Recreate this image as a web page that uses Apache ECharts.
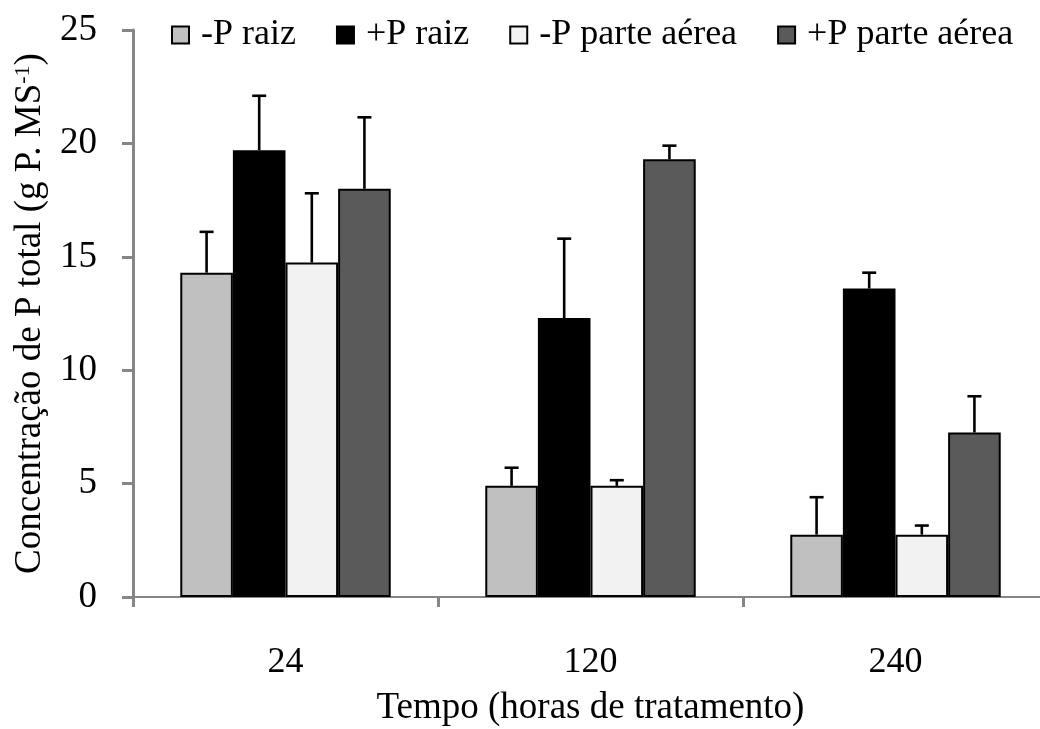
<!DOCTYPE html>
<html>
<head>
<meta charset="utf-8">
<script src="https://cdn.jsdelivr.net/npm/echarts@6/dist/echarts.min.js"></script>
<style>
  html, body { margin: 0; padding: 0; background: #ffffff; }
  #chart { width: 1040px; height: 729px; }
</style>
</head>
<body>
<div id="chart"></div>
<script>
// Hours of treatment
const categories = ['24', '120', '240'];
const seriesNames = ['-P raiz', '+P raiz', '-P parte aérea', '+P parte aérea'];
const yTicks = [0, 5, 10, 15, 20, 25];

// Mean total P concentration (g P kg-1 DM)
const minusPRaiz  = [14.3, 4.9, 2.75];
const plusPRaiz   = [19.7, 12.3, 13.6];
const minusPAerea = [14.75, 4.9, 2.75];
const plusPAerea  = [18.0, 19.3, 7.25];

// Standard deviations (drawn upward only)
const minusPRaizErr  = [1.8, 0.8, 1.65];
const plusPRaizErr   = [2.4, 3.5, 0.7];
const minusPAereaErr = [3.05, 0.25, 0.4];
const plusPAereaErr  = [3.15, 0.6, 1.6];

const seriesColors = ['#c0c0c0', '#000000', '#f2f2f2', '#5a5a5a'];
const means = [minusPRaiz, plusPRaiz, minusPAerea, plusPAerea];
const errs = [minusPRaizErr, plusPRaizErr, minusPAereaErr, plusPAereaErr];

const CATEGORY_GAP = 0.31;
const FONT = '"Liberation Serif", "Times New Roman", serif';
const AXIS_GRAY = '#868686';

// One record per bar: [category index, series index, mean, mean + sd]
const errData = [];
means.forEach((vals, s) => {
  vals.forEach((v, c) => errData.push([c, s, v, v + errs[s][c]]));
});

const barSeries = seriesNames.map((name, s) => ({
  name: name,
  type: 'bar',
  data: means[s],
  barGap: '0%',
  barCategoryGap: (CATEGORY_GAP * 100) + '%',
  itemStyle: { color: seriesColors[s], borderColor: '#000000', borderWidth: 2 },
  emphasis: { disabled: true },
  z: 2
}));

const errorSeries = {
  type: 'custom',
  name: 'sd',
  data: errData,
  encode: { x: 0, y: [2, 3] },
  z: 5,
  silent: true,
  renderItem: function (params, api) {
    const cat = api.value(0);
    const s = api.value(1);
    const base = api.coord([cat, api.value(2)]);
    const top = api.coord([cat, api.value(3)]);
    const band = api.size([1, 0])[0];
    const barW = band * (1 - CATEGORY_GAP) / 4;
    const x = base[0] + (s - 1.5) * barW;
    const capHalf = 7;
    const style = { stroke: '#000000', lineWidth: 2.6, fill: null };
    return {
      type: 'group',
      children: [
        { type: 'line', shape: { x1: x, y1: base[1], x2: x, y2: top[1] }, style: style },
        { type: 'line', shape: { x1: x - capHalf, y1: top[1], x2: x + capHalf, y2: top[1] }, style: style }
      ]
    };
  }
};

const chart = echarts.init(document.getElementById('chart'), null, { renderer: 'canvas' });
chart.setOption({
  animation: false,
  backgroundColor: '#ffffff',
  textStyle: { fontFamily: FONT, color: '#000000' },
  legend: {
    data: seriesNames,
    left: 166,
    top: 12,
    icon: 'rect',
    itemWidth: 17,
    itemHeight: 17,
    itemGap: 40,
    selectedMode: false,
    textStyle: { fontFamily: FONT, fontSize: 36, color: '#000000', padding: [0, 0, 0, 7] }
  },
  // the plot runs past the right edge of the canvas
  grid: { left: 133, width: 915, top: 30, bottom: 132, containLabel: false, outerBoundsMode: 'none' },
  xAxis: {
    type: 'category',
    data: categories,
    name: 'Tempo (horas de tratamento)',
    nameLocation: 'middle',
    nameGap: 93,
    nameTextStyle: { fontFamily: FONT, fontSize: 37, color: '#000000' },
    axisLine: { show: true, lineStyle: { color: AXIS_GRAY, width: 2 } },
    axisTick: { show: true, length: 10, lineStyle: { color: AXIS_GRAY, width: 3 } },
    axisLabel: { fontFamily: FONT, fontSize: 36, color: '#000000', margin: 48 },
    splitLine: { show: false }
  },
  yAxis: {
    type: 'value',
    min: yTicks[0],
    max: yTicks[yTicks.length - 1],
    interval: yTicks[1] - yTicks[0],
    name: 'Concentração de P total (g P. MS{sup|-1})',
    nameLocation: 'middle',
    nameGap: 84,
    nameRotate: 90,
    nameTextStyle: {
      fontFamily: FONT, fontSize: 37, color: '#000000',
      rich: { sup: { fontFamily: FONT, fontSize: 22, color: '#000000', verticalAlign: 'top', padding: [0, 0, 12, 0] } }
    },
    axisLine: { show: true, lineStyle: { color: AXIS_GRAY, width: 3 } },
    axisTick: { show: true, length: 11, lineStyle: { color: AXIS_GRAY, width: 3 } },
    axisLabel: { fontFamily: FONT, fontSize: 37, color: '#000000', margin: 36 },
    splitLine: { show: false }
  },
  series: barSeries.concat([errorSeries])
});
</script>
</body>
</html>
